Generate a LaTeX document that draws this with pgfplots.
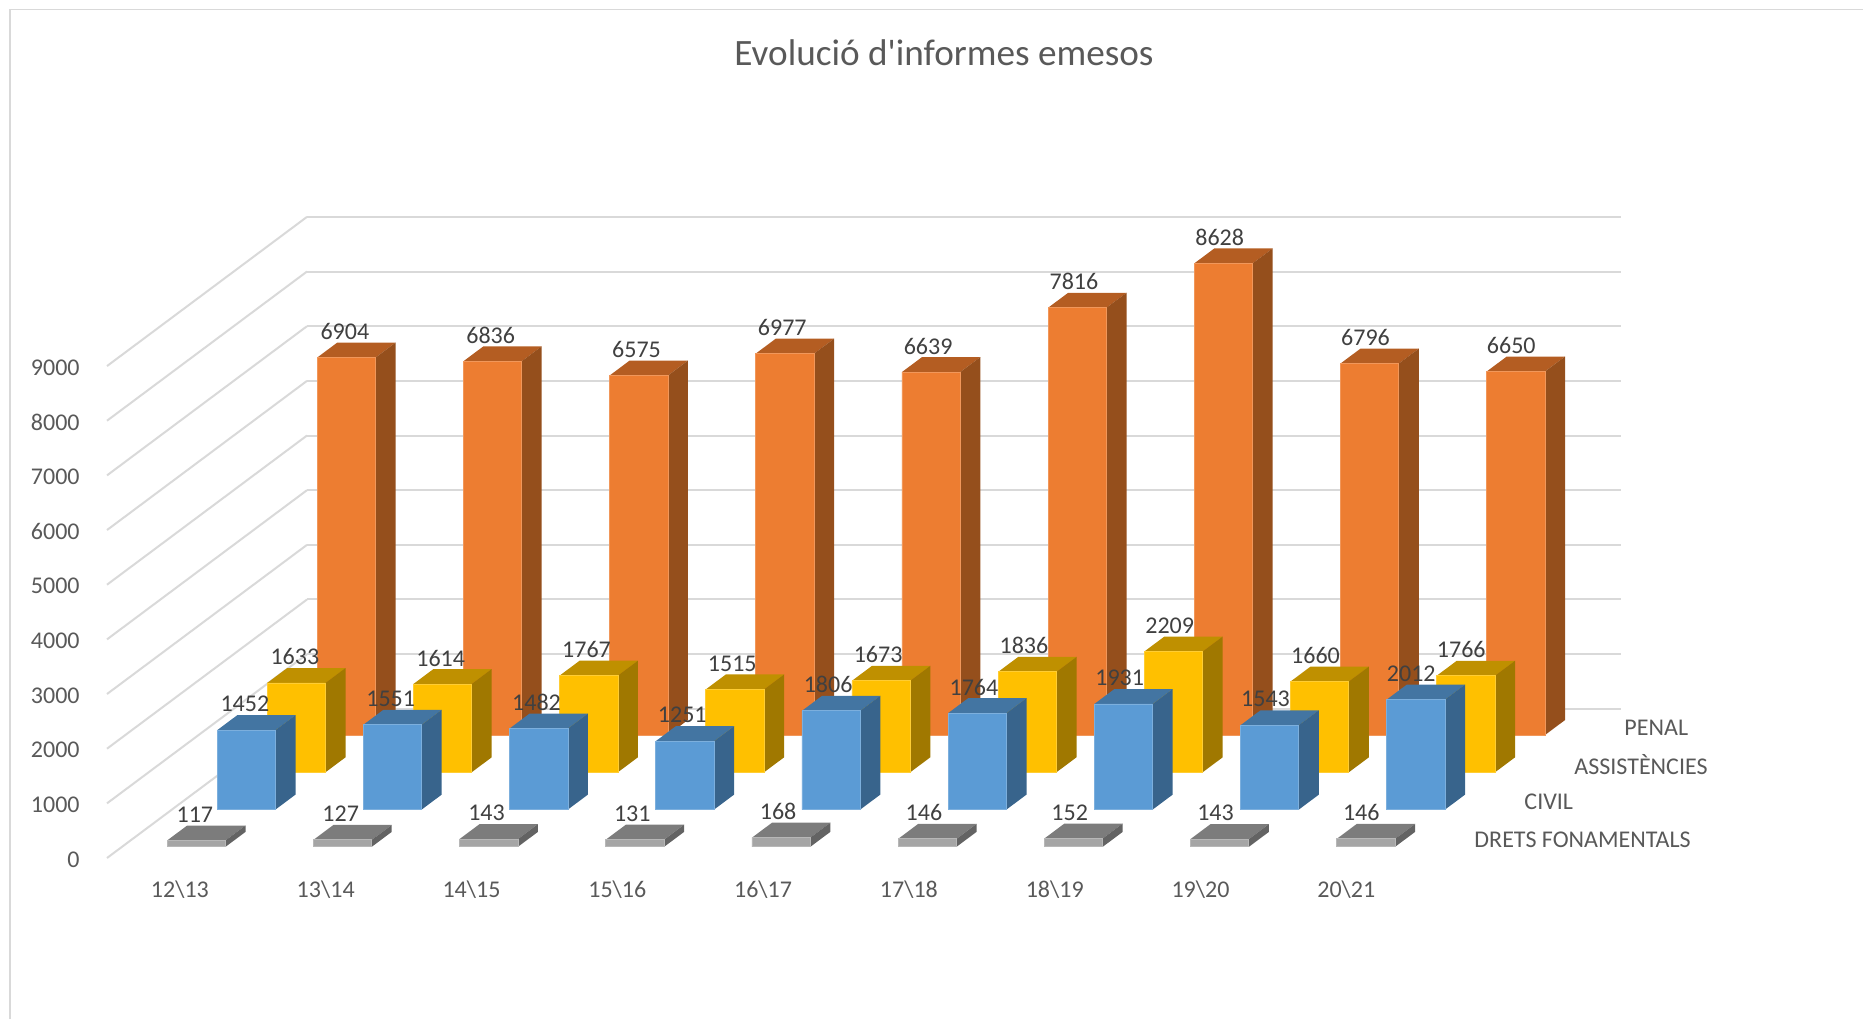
\documentclass[border=0pt]{standalone}
\usepackage{fontspec}
\setmainfont{Carlito}
\newfontfamily\titolfont{Carlito}
\usepackage{pgfplots}
\usepackage{pgfplotstable}
\pgfplotsset{compat=1.18}

\definecolor{gridc}{HTML}{D9D9D9}
\definecolor{tickc}{HTML}{595959}
\definecolor{labelc}{HTML}{404040}
\definecolor{orF}{HTML}{ED7D31}\definecolor{orT}{HTML}{B45D22}\definecolor{orS}{HTML}{954F1C}
\definecolor{yeF}{HTML}{FFC000}\definecolor{yeT}{HTML}{BF9000}\definecolor{yeS}{HTML}{A07800}
\definecolor{blF}{HTML}{5B9BD5}\definecolor{blT}{HTML}{4375A2}\definecolor{blS}{HTML}{38648C}
\definecolor{grF}{HTML}{A5A5A5}\definecolor{grT}{HTML}{7C7C7C}\definecolor{grS}{HTML}{636363}

\pgfplotstableread{
penal assist civil drets
6904 1633 1452 117
6836 1614 1551 127
6575 1767 1482 143
6977 1515 1251 131
6639 1673 1806 168
7816 1836 1764 146
8628 2209 1931 152
6796 1660 1543 143
6650 1766 2012 146
}\informes

% one 3D column: index, depth row, value, front/top/side colours
\newcommand{\columna}[6]{%
  \pgfmathsetmacro\xa{#1*1.0027+0.31}\pgfmathsetmacro\xb{#1*1.0027+0.71}%
  \pgfmathsetmacro\ya{#2+0.3}\pgfmathsetmacro\yb{#2+0.7}%
  \edef\faces{%
    \noexpand\addplot3[fill=#4,draw=none,no markers,forget plot] coordinates {(\xa,\ya,#3)(\xb,\ya,#3)(\xb,\yb,#3)(\xa,\yb,#3)};
    \noexpand\addplot3[fill=#5,draw=none,no markers,forget plot] coordinates {(\xb,\ya,0)(\xb,\yb,0)(\xb,\yb,#3)(\xb,\ya,#3)};
    \noexpand\addplot3[fill=#6,draw=#6!80!white,line width=0.4pt,no markers,forget plot] coordinates {(\xa,\ya,0)(\xb,\ya,0)(\xb,\ya,#3)(\xa,\ya,#3)(\xa,\ya,0)};
  }\faces}
\newcommand{\fila}[5]{%
  \pgfplotsforeachungrouped \i in {0,...,8}{%
    \pgfplotstablegetelem{\i}{#1}\of\informes
    \edef\valor{\pgfplotsretval}%
    \columna{\i}{#2}{\valor}{#3}{#4}{#5}%
  }}
\newcommand{\etiquetes}[2]{%
  \addplot3[only marks,mark=none,forget plot,point meta=z,
    nodes near coords,
    nodes near coords style={font=\fontsize{12}{14}\selectfont,text=labelc,anchor=center,yshift=13pt,inner sep=0pt,
      /pgf/number format/set thousands separator={},/pgf/number format/assume math mode=true}]
    table[x expr=\coordindex+0.5,y expr=#2+0.3,z=#1]{\informes};}

\begin{document}
\begin{tikzpicture}
\useasboundingbox (0,0) rectangle (931.5pt,-509.5pt);
\draw[gridc,line width=0.8pt] (5pt,-509.5pt)--(5pt,-4.8pt)--(931.5pt,-4.8pt);
\node[text=tickc,font=\titolfont\fontsize{18.6}{21}\selectfont] at (472pt,-26.5pt) {Evolució d'informes emesos};
\begin{axis}[
  at={(53.5pt,-429pt)},anchor=origin,
  x={(72.9pt,0pt)},y={(25pt,18.65pt)},z={(0pt,0.02733pt)},
  xmin=0,xmax=9.01,ymin=0,ymax=4,zmin=0,zmax=9000,
  clip=false,
  axis line style={draw=none},
  major tick length=0pt,tick style={draw=none},
  zmajorgrids=true,
  grid style={gridc,line width=1pt},
  xtick={0.5,1.5,2.5,3.5,4.5,5.5,6.5,7.5,8.5},
  xticklabels={12\textbackslash 13,13\textbackslash 14,14\textbackslash 15,15\textbackslash 16,16\textbackslash 17,17\textbackslash 18,18\textbackslash 19,19\textbackslash 20,20\textbackslash 21},
  ytick={0.5,1.5,2.5,3.5},
  yticklabels={DRETS FONAMENTALS,CIVIL,ASSISTÈNCIES,PENAL},
  ztick={0,1000,...,9000},
  tick label style={font=\fontsize{12}{14}\selectfont,text=tickc,inner sep=0pt},
  /pgf/number format/set thousands separator={},
  /pgf/number format/assume math mode=true,
  xticklabel style={anchor=center,yshift=-16pt},
  yticklabel style={anchor=west,xshift=14.2pt},
  zticklabel style={anchor=east,xshift=-13.5pt,yshift=-0.7pt},
]
\fila{penal}{3}{orT}{orS}{orF}
\fila{assist}{2}{yeT}{yeS}{yeF}
\fila{civil}{1}{blT}{blS}{blF}
\fila{drets}{0}{grT}{grS}{grF}
\etiquetes{penal}{3}
\etiquetes{assist}{2}
\etiquetes{civil}{1}
\etiquetes{drets}{0}
\end{axis}
\end{tikzpicture}
\end{document}
